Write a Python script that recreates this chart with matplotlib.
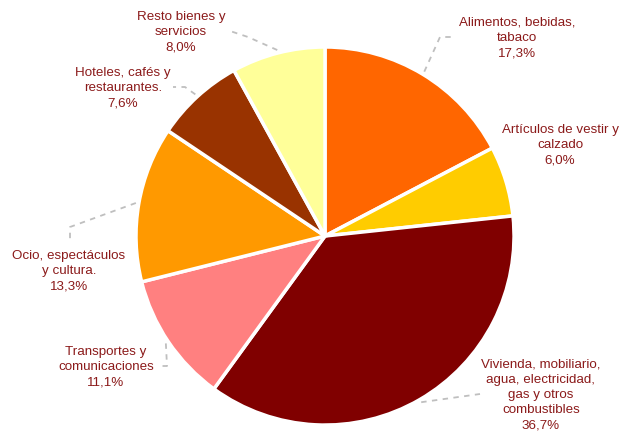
import numpy as np
import matplotlib
matplotlib.use("Agg")
import matplotlib.pyplot as plt

# data (clockwise from 12 o'clock)
categorias = ["Alimentos, bebidas,\ntabaco",
              "Artículos de vestir y\ncalzado",
              "Vivienda, mobiliario,\nagua, electricidad,\ngas y otros\ncombustibles",
              "Transportes y\ncomunicaciones",
              "Ocio, espectáculos\ny cultura.",
              "Hoteles, cafés y\nrestaurantes.",
              "Resto bienes y\nservicios"]
porcentajes = [17.3, 6.0, 36.7, 11.1, 13.3, 7.6, 8.0]
colores = ["#FF6600", "#FFCC00", "#800000", "#FF8080", "#FF9900", "#993300", "#FFFF99"]
separacion = [0, 0, 0.05, 0, 0, 0, 0]

# layout (pixel coords, y measured from top)
W, H = 629, 439
cx, cy, R = 325, 237, 189
label_pos = [(517, 38), (560, 145), (541, 395), (106, 367), (69, 271), (123, 88), (181, 32)]
# leader line: elbow and end point (None = no line)
leaders = [[(440, 38), (453, 38)],
           None,
           [(480, 395)],
           [(167, 367), (160, 367)],
           [(70, 228), (70, 240)],
           [(185, 88), (173, 88)],
           [(248, 38), (230, 32)]]

text_color = "#8B1A1A"

fig = plt.figure(figsize=(W / 100, H / 100), dpi=100)
ax = fig.add_axes([0, 0, 1, 1])

wedges, _ = ax.pie(porcentajes, colors=colores, explode=separacion,
                   startangle=90, counterclock=False,
                   center=(cx, H - cy), radius=R,
                   wedgeprops=dict(edgecolor="white", linewidth=2.5),
                   frame=True)
ax.set_xlim(0, W)
ax.set_ylim(0, H)
ax.set_aspect("equal")
ax.axis("off")

for i, w in enumerate(wedges):
    ang = np.deg2rad((w.theta1 + w.theta2) / 2)
    wx, wy = w.center
    if leaders[i] is not None:
        px = wx + (R + 3) * np.cos(ang)
        py = wy + (R + 3) * np.sin(ang)
        xs = [px] + [p[0] for p in leaders[i]]
        ys = [py] + [H - p[1] for p in leaders[i]]
        ax.plot(xs, ys, color="#BFBFBF", lw=1.3, ls=(0, (3, 3)))
    valor = f"{porcentajes[i]:.1f}".replace(".", ",") + "%"
    lx, ly = label_pos[i]
    ax.text(lx, H - ly, categorias[i] + "\n" + valor, ha="center", va="center",
            fontsize=9.6, color=text_color, family="Liberation Sans", linespacing=1.38)

fig.savefig("out.png", dpi=100)
